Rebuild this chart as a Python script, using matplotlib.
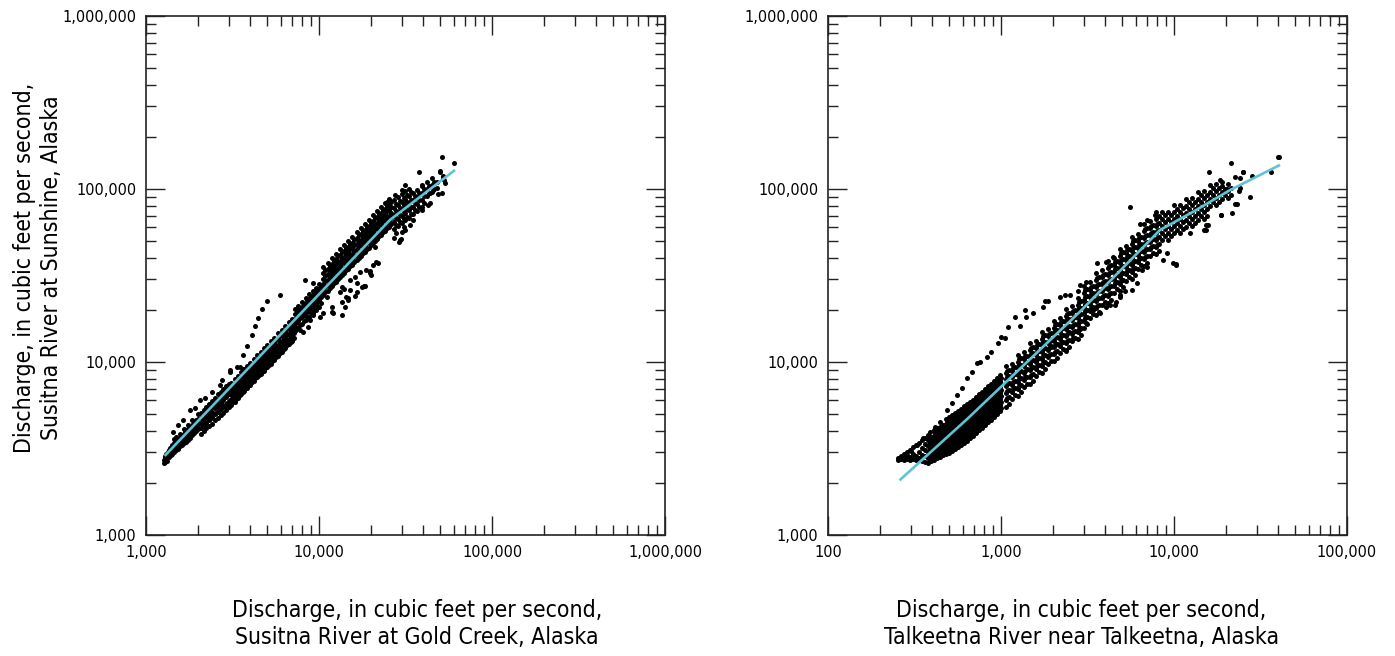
import matplotlib
matplotlib.use("Agg")
import matplotlib.pyplot as plt
from matplotlib import font_manager
from matplotlib.ticker import LogLocator, NullFormatter, FuncFormatter

# ---- font choice: a narrow sans if available
_names = {f.name for f in font_manager.fontManager.ttflist}
_dv_cond = font_manager.findfont(font_manager.FontProperties(family='DejaVu Sans', stretch='condensed'))
if 'Liberation Sans Narrow' in _names:
    plt.rcParams['font.family'] = ['Liberation Sans Narrow', 'DejaVu Sans']
    LABEL_FS, TICK_FS = 19.0, 12.5
elif 'Condensed' in _dv_cond:
    plt.rcParams['font.family'] = ['DejaVu Sans']
    plt.rcParams['font.stretch'] = 'condensed'
    LABEL_FS, TICK_FS = 16.5, 11.6
else:
    plt.rcParams['font.family'] = ['DejaVu Sans']
    LABEL_FS, TICK_FS = 14.8, 10.5

# ---------------- Left panel: Susitna R. at Gold Creek (x) vs Susitna R. at Sunshine (y)
left_line_x = [1281, 25700, 61100]
left_line_y = [2864, 66200, 128800]

left_low = [(1270, 2620), (1275, 2700), (1280, 2780), (1285, 2650), (1290, 2860), (1300, 2720),
            (1300, 2950), (1310, 2800), (1320, 2680), (1330, 2900), (1340, 3000), (1350, 2820),
            (1360, 3100), (1370, 2950), (1380, 3200), (1390, 3050), (1400, 2900)]

left_cols_b = [
    (1420, [2950, 3100, 3300]), (1440, [3080, 3250]), (1460, [3000, 3200, 3400, 3600]),
    (1500, [3100, 3300, 3500, 3700]), (1520, [3250, 3550]), (1540, [3150, 3400, 3600]),
    (1580, [3250, 3450, 3650, 3850]), (1600, [3400, 3700]), (1620, [3300, 3550, 3800]),
    (1660, [3400, 3650, 3850, 4100]), (1680, [3550, 3950]), (1700, [3450, 3750, 4000]),
    (1750, [3550, 3850, 4100, 4350]), (1775, [3700, 4000]), (1800, [3650, 3950, 4200]),
    (1850, [3800, 4100, 4350, 4650]), (1875, [4000, 4300]), (1900, [3900, 4200, 4450]),
    (1950, [4000, 4300, 4600]), (1975, [4200, 4500]), (2000, [4100, 4400, 4700, 5000]),
]

left_cols_c = [
    (2070, [3850, 4150, 4450, 4750, 5050]), (2110, [4400, 4900]),
    (2150, [4000, 4300, 4600, 4950, 5250]), (2190, [4500, 5100]),
    (2230, [4150, 4450, 4800, 5100, 5500]), (2265, [4700, 5250]),
    (2300, [4250, 4600, 4950, 5300, 5700]), (2350, [4700, 5400]),
    (2400, [4400, 4800, 5150, 5500, 5950]), (2450, [4950, 5600]),
    (2500, [4600, 5000, 5400, 5800, 6200]), (2550, [5050, 5800]),
    (2600, [4750, 5150, 5600, 6000, 6500]), (2650, [5300, 6100]),
    (2700, [4950, 5350, 5800, 6250, 6750]), (2750, [5500, 6300]),
    (2800, [5100, 5550, 6050, 6500, 7000]), (2850, [5600, 6600]),
    (2900, [5300, 5750, 6250, 6750, 7250]), (2950, [5800, 6800]),
    (3000, [5500, 5950, 6500, 7000, 7500]),
]

left_cols_d = [
    (3100, [5650, 6100, 6500, 7000, 7600]), (3250, [5900, 6400, 6850, 7350, 7950]),
    (3400, [6200, 6700, 7150, 7700, 8350]), (3550, [6500, 7000, 7500, 8100, 8750]),
    (3700, [6800, 7300, 7850, 8450, 9150]), (3850, [7100, 7600, 8150, 8800, 9500]),
    (4000, [7350, 7950, 8500, 9150, 9900]), (4200, [7750, 8350, 8950, 9650, 10400]),
    (4400, [8150, 8750, 9400, 10100, 10950]), (4600, [8500, 9200, 9850, 10600, 11450]),
    (4800, [8900, 9600, 10300, 11100, 12000]), (5000, [9300, 10000, 10700, 11550, 12500]),
    (5250, [9800, 10550, 11300, 12150, 13200]), (5500, [10300, 11050, 11850, 12800, 13850]),
    (5800, [10850, 11700, 12550, 13500, 14650]), (6100, [11450, 12350, 13200, 14250, 15400]),
    (6400, [12050, 12950, 13900, 15000, 16200]), (6700, [12650, 13600, 14600, 15700, 17000]),
    (7000, [13200, 14250, 15250, 16450, 17800]),
]
left_cols_d_mid = [
    (3170, [5870, 6300, 6750, 7300]), (3320, [6150, 6620, 7100, 7650]),
    (3475, [6450, 6920, 7420, 8020]), (3630, [6750, 7250, 7800, 8420]),
    (3780, [7050, 7570, 8150, 8800]), (3935, [7350, 7870, 8470, 9150]),
    (4090, [7650, 8220, 8820, 9520]), (4290, [8050, 8650, 9300, 10020]),
    (4500, [8450, 9070, 9750, 10520]), (4700, [8850, 9520, 10220, 11020]),
    (4905, [9250, 9950, 10700, 11550]), (5110, [9650, 10350, 11120, 12020]),
    (5365, [10170, 10920, 11720, 12670]), (5620, [10670, 11450, 12320, 13320]),
    (5930, [11270, 12120, 13020, 14070]), (6235, [11900, 12770, 13720, 14820]),
    (6540, [12500, 13420, 14450, 15600]), (6850, [13120, 14100, 15150, 16350]),
    (7150, [13720, 14750, 15850, 17100]),
]

left_cols_e = [
    (7300, [15100, 16500, 17700, 19000, 20200]), (7600, [15700, 17200, 18500, 19800, 21100]),
    (8000, [16600, 18100, 19500, 20900, 22200]), (8400, [17500, 19100, 20500, 22000, 23400]),
    (8800, [18300, 20000, 21600, 23100, 24600]), (9200, [19200, 21000, 22600, 24200, 25800]),
    (9600, [20100, 22000, 23600, 25300, 26900]), (10000, [20900, 22900, 24600, 26400, 28100]),
]
left_cols_e_mid = [
    (7450, [15800, 17100, 18350, 19600]), (7760, [16450, 17850, 19150, 20450]),
    (8170, [17350, 18800, 20200, 21550]), (8580, [18300, 19800, 21250, 22700]),
    (8990, [19150, 20800, 22350, 23850]), (9400, [20100, 21800, 23400, 25000]),
    (9800, [21050, 22800, 24450, 26100]), (10300, [21900, 23750, 25500, 27250]),
]

left_cols_f = [
    (10600, [24300, 26200, 28200, 30300, 32700, 35300]),
    (11200, [25800, 27700, 29900, 32100, 34600, 37400]),
    (11900, [27400, 29500, 31900, 34200, 36900, 39800]),
    (12600, [29100, 31300, 33800, 36300, 39200, 42300]),
    (13300, [30800, 33200, 35800, 38500, 41500, 44800]),
    (14000, [32600, 35100, 37800, 40700, 43800, 47300]),
    (14800, [34500, 37100, 40000, 43000, 46400, 50100]),
    (15600, [36500, 39200, 42300, 45500, 49000, 52900]),
    (16500, [38700, 41600, 44900, 48200, 52000, 56100]),
    (17400, [40900, 43900, 47400, 51000, 54900, 59300]),
    (18400, [43300, 46600, 50300, 54000, 58200, 62900]),
    (19400, [45800, 49200, 53200, 57100, 61500, 66500]),
    (20500, [48500, 52200, 56300, 60500, 65200, 70400]),
    (21600, [51200, 55100, 59500, 63900, 68900, 74400]),
    (22800, [54200, 58300, 63000, 67600, 72900, 78700]),
    (24000, [57200, 61500, 66400, 71400, 76900, 83100]),
    (25300, [60500, 65000, 70200, 75400, 81300, 87800]),
]
left_cols_f_mid = [
    (10890, [25250, 27200, 29250, 31500, 34000]), (11500, [26750, 28800, 31000, 33350, 36000]),
    (12220, [28450, 30700, 33050, 35550, 38350]), (12940, [30200, 32550, 35050, 37750, 40750]),
    (13660, [32000, 34500, 37150, 40000, 43150]), (14380, [33850, 36450, 39250, 42250, 45550]),
    (15200, [35800, 38550, 41500, 44700, 48250]), (16020, [37850, 40750, 43900, 47250, 50950]),
    (16950, [40150, 43250, 46550, 50100, 54050]), (17870, [42400, 45650, 49200, 52950, 57050]),
    (18900, [44950, 48450, 52150, 56100, 60550]), (19920, [47500, 51200, 55150, 59300, 64000]),
    (21050, [50350, 54250, 58400, 62850, 67800]), (22180, [53150, 57300, 61700, 66400, 71650]),
    (23420, [56250, 60650, 65300, 70250, 75800]), (24650, [59350, 63950, 68900, 74150, 80000]),
    (25980, [62700, 67600, 72800, 78350, 84500]),
]

left_cols_g = [
    (27000, [86000, 77700, 70900, 64700, 58500, 52300]),
    (28500, [89700, 81100, 73900, 67400, 61000]),
    (30000, [93300, 84300, 76800, 70100, 63400, 56700]),
    (31500, [96800, 87500, 79800, 72800, 65800]),
    (33000, [100300, 90700, 82700, 75500, 68200]),
    (35000, [95000, 86600, 79000, 71400]),
    (37000, [99100, 90300, 82400, 74500]),
    (39500, [104200, 95000, 86700, 78400]),
    (42000, [109200, 99600, 90900]),
    (45000, [115100, 105000, 95800]),
    (48000, [110300, 100700]),
    (52000, [117300]),
]
left_cols_g_mid = [
    (27730, [81750, 74250, 67800, 61600, 55400]), (29270, [85400, 77500, 70650, 64200]),
    (30810, [88800, 80550, 73450, 66750, 60050]), (32350, [92150, 83650, 76300, 69300]),
    (33890, [95500, 86700, 79100, 71850]), (35950, [90800, 82800, 75200]),
    (38000, [94700, 86350, 78450]), (40570, [99600, 90850, 82550]),
    (43130, [104400, 95250]), (46220, [110000, 100400]),
]

left_below = [(13190, 25390), (13600, 27130), (15060, 26060), (16540, 28610), (17660, 27130),
              (18380, 27500), (14660, 22850), (13600, 22270), (11890, 20800), (11890, 19460),
              (10560, 19200), (10130, 18200), (8855, 17510), (8620, 15920), (7750, 15330),
              (7060, 13780), (19640, 32690), (20480, 36400), (21880, 37320), (16100, 30990),
              (15060, 29810), (17200, 33130), (18810, 34050), (20990, 46200), (19640, 33600),
              (16540, 25390), (14320, 23640), (14090, 20800), (13600, 18710), (11170, 23640),
              (9230, 18710), (8100, 14900), (29010, 49390), (33400, 61950), (34740, 66200),
              (39370, 75600), (43560, 82970), (51410, 94840), (29250, 50750), (48660, 93600),
              (42650, 80800), (29710, 51300), (31260, 57970), (20000, 31860), (21350, 37760),
              (18160, 27500), (16100, 24130), (12050, 19200), (14660, 23300), (13860, 26300)]

left_above = [(53150, 108300), (51980, 118900), (49740, 125400), (51410, 153100), (59920, 141300),
              (37720, 125400), (39370, 105500), (45490, 98680), (31260, 105500), (30190, 98680),
              (24670, 84100), (27370, 92300), (50290, 127000), (52540, 112700), (43560, 94840)]

left_upper_branch = [(1430, 3920), (1530, 4330), (1640, 4620), (1796, 5281), (1920, 5420),
                     (2050, 6032), (2190, 6200), (2400, 6700), (2677, 7364), (2740, 7870),
                     (3060, 8800), (3060, 8990), (3340, 9300), (3500, 9300), (3650, 9130),
                     (3650, 10990), (3830, 12380), (4090, 14340), (4265, 16200), (4440, 18000),
                     (4683, 20160), (5000, 22400), (5945, 24380), (8285, 29630), (9230, 28610)]

# ---------------- Right panel: Talkeetna R. near Talkeetna (x) vs Susitna R. at Sunshine (y)
right_line_x = [259, 640, 2860, 8300, 12940, 21090, 41000]
right_line_y = [2070, 4700, 19540, 57950, 73960, 98600, 137800]

right_tail = [(254, 2800), (254, 2716), (256, 2760), (265, 2760), (265, 2860), (275, 2716),
              (275, 2820), (275, 2940), (286, 2760), (286, 2902), (286, 3020), (298, 2716),
              (298, 2820), (298, 3102), (310, 2760), (310, 2940), (310, 3210), (323, 2716),
              (323, 2860), (323, 3315), (336, 2800), (336, 3020), (336, 3400), (349, 2680),
              (349, 2902), (349, 3180), (349, 3543), (363, 2640), (363, 2860), (363, 3102),
              (363, 3360), (363, 3640)]

right_cols_1 = [
    (379, [2600, 2800, 3020, 3270, 3543, 3787]),
    (394, [2680, 2902, 3150, 3400, 3690]),
    (410, [2716, 2940, 3180, 3450, 3740, 4047]),
    (426, [2800, 3020, 3270, 3543, 3840, 4150]),
    (443, [2820, 3060, 3315, 3590, 3890, 4210]),
    (461, [2902, 3150, 3400, 3690, 3990, 4326]),
    (480, [2940, 3180, 3450, 3740, 4047, 4380, 4690]),
    (499, [2980, 3230, 3500, 3787, 4100, 4440, 4810]),
    (520, [3060, 3315, 3590, 3890, 4210, 4560, 4941]),
    (541, [3150, 3400, 3690, 3990, 4326, 4690, 5070]),
    (563, [3230, 3500, 3787, 4100, 4440, 4810, 5210]),
    (585, [3315, 3590, 3890, 4210, 4560, 4941, 5350]),
    (610, [3400, 3690, 3990, 4326, 4690, 5070, 5570]),
    (635, [3500, 3787, 4100, 4440, 4810, 5210, 5720]),
    (661, [3640, 3940, 4270, 4623, 5000, 5420, 5870]),
    (688, [3740, 4047, 4380, 4750, 5140, 5570, 6032]),
    (716, [3890, 4210, 4560, 4941, 5350, 5790, 6280]),
    (745, [4047, 4380, 4750, 5140, 5570, 6032, 6530]),
    (775, [4150, 4500, 4870, 5281, 5720, 6200, 6710]),
    (807, [4326, 4690, 5070, 5490, 5950, 6446, 6980]),
    (839, [4500, 4870, 5281, 5720, 6200, 6710, 7270]),
    (873, [4623, 5000, 5420, 5870, 6360, 6890, 7460]),
    (909, [4810, 5210, 5644, 6110, 6620, 7170, 7770]),
    (946, [5000, 5420, 5870, 6360, 6890, 7460, 8080]),
    (985, [5210, 5644, 6110, 6620, 7170, 7770, 8411]),
]
right_cols_1_mid = [
    (387, [2700, 2910, 3145, 3405, 3665]), (402, [2790, 3025, 3275, 3545]),
    (418, [2830, 3060, 3315, 3595, 3890]), (435, [2910, 3145, 3405, 3690, 3990]),
    (452, [2940, 3185, 3450, 3740, 4050]), (470, [3025, 3275, 3545, 3840, 4160]),
    (490, [3060, 3315, 3595, 3890, 4210, 4530]), (509, [3105, 3365, 3640, 3945, 4270, 4620]),
    (530, [3185, 3450, 3740, 4050, 4380, 4750]), (552, [3275, 3545, 3840, 4160, 4505, 4880]),
    (574, [3365, 3640, 3945, 4270, 4620, 5005]), (597, [3450, 3740, 4050, 4380, 4750, 5140]),
    (622, [3545, 3840, 4160, 4505, 4880, 5315]), (648, [3640, 3945, 4270, 4620, 5005, 5460]),
    (674, [3790, 4100, 4445, 4810, 5205, 5645]), (702, [3890, 4215, 4560, 4940, 5350, 5800]),
    (730, [4050, 4385, 4750, 5140, 5565, 6030]), (760, [4215, 4560, 4940, 5350, 5800, 6280]),
    (790, [4325, 4680, 5070, 5500, 5960, 6450]), (823, [4505, 4880, 5280, 5720, 6195, 6710]),
    (856, [4680, 5070, 5500, 5960, 6450, 6985]), (890, [4810, 5205, 5645, 6110, 6620, 7170]),
    (927, [5005, 5425, 5875, 6360, 6890, 7465]), (965, [5205, 5645, 6110, 6620, 7170, 7770]),
    (1005, [5425, 5875, 6360, 6890, 7465, 8085]),
]

right_cols_2 = [
    (1067, [9450, 8610, 7960, 7250, 6600, 6020, 5480]),
    (1155, [9800, 8930, 8140, 7410, 6750, 6150]),
    (1252, [11010, 10030, 9270, 8440, 7690, 7010, 6380]),
    (1356, [11420, 10400, 9480, 8630, 7860, 7160]),
    (1468, [12810, 11670, 10780, 9820, 8950, 8150, 7430]),
    (1590, [13280, 12100, 11030, 10040, 9150, 8340]),
    (1723, [14920, 13590, 12550, 11430, 10420, 9490, 8650]),
    (1866, [15470, 14090, 12840, 11700, 10660, 9710]),
    (2021, [17370, 15820, 14620, 13310, 12130, 11050, 10070]),
    (2189, [18010, 16410, 14950, 13620, 12410, 11300]),
    (2371, [20220, 18420, 17010, 15490, 14120, 12860, 11720]),
    (2568, [20970, 19100, 17400, 15850, 14440, 13150]),
    (2782, [23540, 21440, 19810, 18040, 16440, 14970, 13640]),
]
right_cols_2_mid = [
    (1110, [9030, 8280, 7600, 6920, 6300, 5750]), (1200, [9360, 8530, 7770, 7080, 6450]),
    (1300, [10520, 9650, 8850, 8060, 7350, 6700]), (1410, [10900, 9940, 9050, 8240, 7500]),
    (1527, [12240, 11220, 10300, 9390, 8550, 7790]), (1654, [12680, 11560, 10540, 9600, 8750]),
    (1792, [14250, 13070, 11990, 10930, 9960, 9070]), (1941, [14780, 13460, 12270, 11180, 10190]),
    (2102, [16600, 15220, 13970, 12720, 11590, 10560]), (2277, [17210, 15680, 14290, 13020, 11860]),
    (2466, [19320, 17720, 16250, 14810, 13490, 12290]), (2671, [20040, 18250, 16630, 15150, 13800]),
    (2893, [22490, 20630, 18930, 17240, 15710, 14310]),
]
right_cols_2_qtr = [
    (1088, [8910, 8240, 7500, 6830, 6230]), (1178, [9240, 8420, 7670, 6990]),
    (1277, [10380, 9590, 8740, 7960, 7260]), (1383, [10760, 9810, 8930, 8140]),
    (1497, [12080, 11160, 10160, 9260, 8440]), (1622, [12520, 11420, 10390, 9470]),
    (1757, [14070, 12990, 11830, 10780, 9820]), (1903, [14580, 13290, 12110, 11030]),
    (2061, [16370, 15130, 13780, 12550, 11440]), (2233, [16980, 15470, 14100, 12840]),
    (2418, [19060, 17610, 16030, 14610, 13310]), (2619, [19770, 18010, 16400, 14950]),
    (2838, [22190, 20500, 18670, 17020, 15490]),
]

right_cols_3 = [
    (3013, [27620, 25160, 22920, 20880, 19020, 17330, 15790]),
    (3264, [28810, 26230, 23910, 21780, 19840, 18070]),
    (3535, [32500, 29620, 26970, 24570, 22390, 20400, 18580]),
    (3829, [33900, 30870, 28140, 25640, 23350, 21270]),
    (4148, [38260, 34860, 31750, 28920, 26350, 24010, 21870]),
    (4493, [39900, 36340, 33120, 30170, 27480, 25030]),
    (4866, [45040, 41040, 37370, 34050, 31020, 28270, 25750]),
    (5271, [46960, 42770, 38980, 35510, 32340, 29460]),
    (5710, [53010, 48300, 43990, 40070, 36510, 33270, 30300]),
    (6185, [55280, 50350, 45880, 41800, 38070, 34680]),
    (6699, [62390, 56850, 51770, 47160, 42970, 39160, 35660]),
    (7256, [65060, 59250, 54000, 49200, 44800, 40810]),
    (7860, [73430, 66910, 60940, 55510, 50580, 46090, 41980]),
]
right_cols_3_mid = [
    (3134, [26390, 24040, 21900, 19950, 18180, 16560]), (3395, [27520, 25080, 22850, 20810, 18960]),
    (3676, [31060, 28300, 25770, 23480, 21400, 19490]), (3982, [32390, 29510, 26890, 24500, 22310]),
    (4314, [36560, 33310, 30340, 27640, 25180, 22940]), (4673, [38120, 34730, 31650, 28830, 26260]),
    (5061, [43040, 39210, 35710, 32540, 29650, 27010]), (5482, [44870, 40880, 37250, 33930, 30900]),
    (5938, [50660, 46150, 42030, 38290, 34890, 31790]), (6432, [52820, 48120, 43840, 39940, 36380]),
    (6967, [59620, 54310, 49470, 45070, 41070, 37410]), (7546, [62160, 56630, 51600, 47010, 42810]),
    (8174, [70170, 63940, 58240, 53050, 48330, 44040]),
]
right_cols_3_qtr = [
    (3073, [26040, 23720, 21610, 19690, 17940]), (3329, [27150, 24750, 22540, 20530]),
    (3606, [30660, 27910, 25430, 23170, 21110]), (3906, [31950, 29120, 26540, 24170]),
    (4231, [36080, 32860, 29930, 27270, 24850]), (4583, [37610, 34280, 31230, 28440]),
    (4963, [42480, 38680, 35240, 32110, 29260]), (5376, [44270, 40340, 36750, 33470]),
    (5824, [49990, 45530, 41470, 37790, 34430]), (6309, [52110, 47490, 43260, 39400]),
    (6833, [58840, 53580, 48810, 44470, 40530]), (7401, [61320, 55890, 50920, 46370]),
    (8017, [69250, 63070, 57450, 52350, 47700]),
]

right_cols_4 = [
    (8514, [73670, 67090, 61160, 55700, 50760]),
    (9222, [73990, 67420, 61400, 55940, 50960]),
    (9989, [80460, 73270, 66790, 60820, 55430]),
    (10820, [80800, 73620, 67050, 61080, 55650]),
    (11720, [87860, 80010, 72930, 66420, 60530]),
    (12695, [88180, 80350, 73180, 66670, 60740]),
    (13750, [96120, 87530, 79790, 72660, 66230]),
    (14895, [96810, 88210, 80340, 73190, 66680]),
    (16130, [105600, 96160, 87650, 79820]),
    (17475, [106400, 96920, 88270, 80410]),
    (18930, [104700, 96320, 87720]),
    (20500, [106500, 97000, 88370]),
    (24060, [115700, 101000]),
    (28230, [119000]),
]
right_cols_4_mid = [
    (8855, [70380, 64130, 58430, 53230]), (9591, [70700, 64410, 58670, 53450]),
    (10390, [76860, 70030, 63810, 58130]), (11250, [77210, 70330, 64070, 58370]),
    (12190, [83940, 76470, 69670, 63480]), (13200, [84270, 76770, 69930, 63700]),
    (14300, [91830, 83660, 76230, 69450]), (15490, [92510, 84290, 76770, 69930]),
    (16780, [100800, 91910, 83760]), (18170, [101600, 92600, 84340]),
    (19690, [100400, 92020]), (21320, [101700, 92630]),
]

right_upper = [(300, 3050), (325, 3300), (356, 3620), (389, 3950), (416, 4230), (443, 4520),
               (485, 5280), (520, 5800), (555, 6450), (592, 7050), (633, 8050), (676, 8790),
               (723, 9820), (757, 10030), (825, 10730), (880, 11470), (960, 12830), (1000, 14000),
               (1050, 13710), (1098, 16000), (1200, 18290), (1290, 16140), (1378, 20000),
               (1404, 18290), (1540, 19100), (1760, 20890), (1800, 22660), (1880, 22400),
               (2196, 23880), (2340, 24420), (2500, 24420), (2790, 25870), (2860, 27890),
               (3120, 29140), (3570, 37230), (4060, 38000), (4440, 40400), (5600, 79000),
               (6350, 63000), (7000, 66000), (7800, 71000)]

right_lower = [(10240, 36400), (9060, 42440), (15400, 57970), (5710, 26100), (4866, 23850),
               (4640, 22200), (4290, 21380), (3410, 20000), (3720, 19100), (4060, 20900),
               (4550, 21380), (4866, 24420), (5200, 25600), (6080, 28500), (6520, 34050),
               (6950, 35200), (9900, 37200), (2390, 11500), (2100, 12750), (1920, 12560),
               (2620, 13710), (2860, 15580), (3120, 16700), (1610, 10400), (1468, 9800),
               (1720, 11750), (10220, 36700), (14970, 57800), (15300, 62000), (8670, 38900),
               (12400, 55500), (18600, 70800), (15800, 62000)]

right_far = [(18800, 71000), (21780, 73000), (22500, 82000), (27500, 90000), (23700, 97500),
             (25000, 126000), (21400, 142000), (15960, 126000), (36500, 126000), (40700, 153000),
             (18350, 112000), (20200, 99500), (22600, 118000), (18850, 110000), (23200, 82400),
             (25100, 125600), (40100, 152700)]

ytick_vals = [1000, 10000, 100000, 1000000]
left_xtick_vals = [1000, 10000, 100000, 1000000]
right_xtick_vals = [100, 1000, 10000, 100000]

x_label_left = "Discharge, in cubic feet per second,\nSusitna River at Gold Creek, Alaska"
x_label_right = "Discharge, in cubic feet per second,\nTalkeetna River near Talkeetna, Alaska"
y_label_left = "Discharge, in cubic feet per second,\nSusitna River at Sunshine, Alaska"


def gather(pairs=(), cols=()):
    xs, ys = [], []
    for x, y in pairs:
        xs.append(x)
        ys.append(y)
    for x, yl in cols:
        for y in yl:
            xs.append(x)
            ys.append(y)
    return xs, ys


def style_axis(ax, xlim, xticks):
    ax.set_xscale('log')
    ax.set_yscale('log')
    ax.set_xlim(*xlim)
    ax.set_ylim(1000, 1000000)
    ax.set_xticks(xticks)
    ax.set_yticks(ytick_vals)
    fmt = FuncFormatter(lambda v, p: f"{int(round(v)):,}")
    ax.xaxis.set_major_formatter(fmt)
    ax.yaxis.set_major_formatter(fmt)
    ax.xaxis.set_minor_locator(LogLocator(base=10, subs=range(2, 10)))
    ax.yaxis.set_minor_locator(LogLocator(base=10, subs=range(2, 10)))
    ax.xaxis.set_minor_formatter(NullFormatter())
    ax.yaxis.set_minor_formatter(NullFormatter())
    ax.tick_params(which='both', direction='in', top=True, right=True, color='#222222')
    ax.tick_params(which='major', length=14, width=1.0, labelsize=TICK_FS, pad=7)
    ax.tick_params(which='minor', length=7.5, width=1.0)
    for s in ax.spines.values():
        s.set_linewidth(1.2)
        s.set_color('#222222')


fig = plt.figure(figsize=(13.95, 6.56), dpi=100)
ax1 = fig.add_axes([146 / 1395, 121 / 656, 519 / 1395, 519 / 656])
ax2 = fig.add_axes([828 / 1395, 121 / 656, 519 / 1395, 519 / 656])

dot = dict(s=13, c='black', linewidths=0, zorder=2)
line_kw = dict(color='#5EC4D4', lw=1.9, zorder=3, solid_capstyle='butt')

for pairs, cols in [(left_low, ()), ((), left_cols_b), ((), left_cols_c), ((), left_cols_d),
                    ((), left_cols_d_mid), ((), left_cols_e), ((), left_cols_e_mid),
                    ((), left_cols_f), ((), left_cols_f_mid), ((), left_cols_g), ((), left_cols_g_mid),
                    (left_below, ()), (left_above, ()), (left_upper_branch, ())]:
    xs, ys = gather(pairs, cols)
    ax1.scatter(xs, ys, **dot)
ax1.plot(left_line_x, left_line_y, **line_kw)

for pairs, cols in [(right_tail, ()), ((), right_cols_1), ((), right_cols_1_mid),
                    ((), right_cols_2), ((), right_cols_2_mid), ((), right_cols_2_qtr),
                    ((), right_cols_3), ((), right_cols_3_mid), ((), right_cols_3_qtr),
                    ((), right_cols_4), ((), right_cols_4_mid),
                    (right_upper, ()), (right_lower, ()), (right_far, ())]:
    xs, ys = gather(pairs, cols)
    ax2.scatter(xs, ys, **dot)
ax2.plot(right_line_x, right_line_y, **line_kw)

style_axis(ax1, (1000, 1000000), left_xtick_vals)
style_axis(ax2, (100, 100000), right_xtick_vals)

ax1.set_xlabel(x_label_left, fontsize=LABEL_FS, linespacing=1.2)
ax1.xaxis.set_label_coords(0.522, -0.124)
ax2.set_xlabel(x_label_right, fontsize=LABEL_FS, linespacing=1.2)
ax2.xaxis.set_label_coords(0.488, -0.124)
ax1.set_ylabel(y_label_left, fontsize=LABEL_FS, linespacing=1.2)
ax1.yaxis.set_label_coords(-0.160, 0.5145)

fig.savefig('out.png', dpi=100, facecolor='white')
